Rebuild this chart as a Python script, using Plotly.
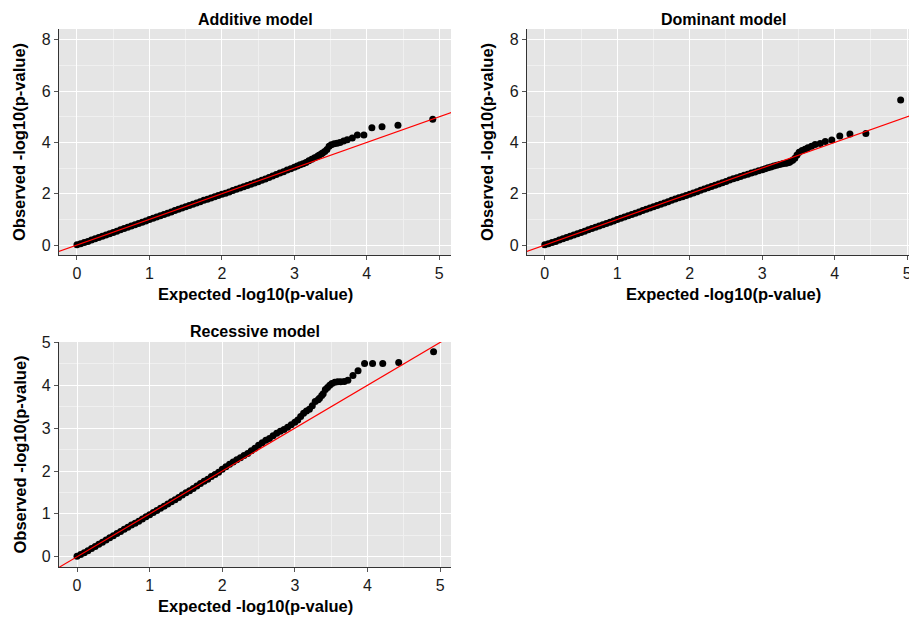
import plotly.graph_objects as go

# Expected -log10(p) (shared quantile positions)
expected = [4.91, 4.43, 4.21, 4.07, 3.96, 3.87, 3.80, 3.73, 3.68, 3.63,
            3.59, 3.55, 3.51, 3.48, 3.45, 3.42, 3.39, 3.37, 3.34, 3.32,
            3.28, 3.24, 3.20, 3.16, 3.12, 3.08, 3.04, 3.00,
            2.95, 2.90, 2.85, 2.80, 2.75, 2.70, 2.65, 2.60, 2.55, 2.50,
            2.45, 2.40, 2.35, 2.30, 2.25, 2.20, 2.15, 2.10, 2.05, 2.00,
            1.95, 1.90, 1.85, 1.80, 1.75, 1.70, 1.65, 1.60, 1.55, 1.50,
            1.45, 1.40, 1.35, 1.30, 1.25, 1.20, 1.15, 1.10, 1.05, 1.00,
            0.95, 0.90, 0.85, 0.80, 0.75, 0.70, 0.65, 0.60, 0.55, 0.50,
            0.45, 0.40, 0.35, 0.30, 0.25, 0.20, 0.15, 0.10, 0.05, 0.00]

additive_obs = [4.90, 4.67, 4.61, 4.57, 4.29, 4.29, 4.17, 4.10, 4.05, 4.00,
                3.97, 3.95, 3.91, 3.85, 3.72, 3.64, 3.59, 3.55, 3.50, 3.46,
                3.40, 3.34, 3.28, 3.22, 3.17, 3.13, 3.08, 3.03,
                2.97, 2.92, 2.86, 2.81, 2.75, 2.69, 2.63, 2.57, 2.52, 2.47,
                2.42, 2.37, 2.32, 2.27, 2.22, 2.17, 2.12, 2.07, 2.02, 1.98,
                1.93, 1.88, 1.83, 1.78, 1.74, 1.69, 1.64, 1.59, 1.54, 1.49,
                1.44, 1.39, 1.34, 1.29, 1.24, 1.19, 1.14, 1.09, 1.04, 0.99,
                0.94, 0.89, 0.84, 0.79, 0.74, 0.69, 0.64, 0.59, 0.54, 0.49,
                0.44, 0.39, 0.34, 0.29, 0.24, 0.19, 0.14, 0.10, 0.05, 0.01]

dominant_obs = [5.65, 4.35, 4.33, 4.25, 4.09, 4.03, 3.96, 3.92, 3.85, 3.79,
                3.73, 3.68, 3.62, 3.51, 3.38, 3.30, 3.25, 3.22, 3.20, 3.19,
                3.17, 3.14, 3.11, 3.08, 3.04, 3.01, 2.97, 2.93,
                2.89, 2.85, 2.81, 2.76, 2.72, 2.67, 2.62, 2.58, 2.53, 2.48,
                2.43, 2.38, 2.33, 2.28, 2.23, 2.18, 2.13, 2.08, 2.03, 1.98,
                1.93, 1.88, 1.84, 1.79, 1.74, 1.69, 1.64, 1.59, 1.54, 1.49,
                1.44, 1.39, 1.34, 1.29, 1.24, 1.19, 1.14, 1.09, 1.04, 0.99,
                0.94, 0.89, 0.84, 0.79, 0.74, 0.69, 0.64, 0.59, 0.54, 0.49,
                0.44, 0.39, 0.34, 0.29, 0.24, 0.19, 0.14, 0.10, 0.05, 0.01]

recessive_obs = [4.78, 4.53, 4.51, 4.51, 4.51, 4.34, 4.23, 4.12, 4.09, 4.08,
                 4.08, 4.07, 4.04, 4.00, 3.95, 3.90, 3.80, 3.76, 3.70, 3.66,
                 3.62, 3.52, 3.44, 3.40, 3.35, 3.27, 3.19, 3.14,
                 3.08, 3.02, 2.97, 2.93, 2.88, 2.82, 2.76, 2.72, 2.66, 2.60,
                 2.53, 2.47, 2.41, 2.36, 2.31, 2.26, 2.21, 2.16, 2.10, 2.04,
                 1.97, 1.92, 1.87, 1.81, 1.76, 1.71, 1.65, 1.59, 1.54, 1.49,
                 1.44, 1.38, 1.33, 1.28, 1.23, 1.18, 1.13, 1.08, 1.03, 0.98,
                 0.93, 0.88, 0.83, 0.78, 0.74, 0.69, 0.64, 0.59, 0.54, 0.49,
                 0.44, 0.39, 0.34, 0.29, 0.24, 0.19, 0.14, 0.09, 0.05, 0.01]

titles = ["Additive model", "Dominant model", "Recessive model"]
x_title = "Expected -log10(p-value)"
y_title = "Observed -log10(p-value)"
diag = [-1, 10]  # y = x reference line

W, H = 909, 618
FONT = "Liberation Sans, Arial, sans-serif"

# panel pixel boxes: (left, right, top, bottom)
panels = [
    dict(box=(59, 451, 29, 255), xr=[-0.248, 5.162], yr=[-0.39, 8.42], ydt=2, ymin=1, obs=additive_obs),
    dict(box=(527, 909, 29, 255), xr=[-0.245, 5.025], yr=[-0.39, 8.42], ydt=2, ymin=1, obs=dominant_obs),
    dict(box=(59, 451, 342, 567), xr=[-0.248, 5.15], yr=[-0.24, 5.01], ydt=1, ymin=0.5, obs=recessive_obs),
]

fig = go.Figure()
annotations = []
for i, p in enumerate(panels):
    n = "" if i == 0 else str(i + 1)
    xa, ya = "x" + n, "y" + n
    l, r, t, b = p["box"]
    fig.add_trace(go.Scatter(x=expected, y=p["obs"], mode="markers", xaxis=xa, yaxis=ya,
                             marker=dict(color="black", size=7, line=dict(width=0)),
                             showlegend=False, hoverinfo="skip"))
    fig.add_trace(go.Scatter(x=diag, y=diag, mode="lines", xaxis=xa, yaxis=ya,
                             line=dict(color="#FF0000", width=1.2),
                             showlegend=False, hoverinfo="skip"))
    common = dict(showline=True, linecolor="#333333", linewidth=1.3, mirror=False,
                  ticks="outside", ticklen=4, tickwidth=1, tickcolor="#555555",
                  showgrid=True, gridcolor="white", gridwidth=1.3, zeroline=False,
                  tickfont=dict(family=FONT, size=16, color="#1A1A1A"),
                  ticklabeloverflow="allow", automargin=False)
    fig.layout["xaxis" + n] = dict(common, domain=[l / W, r / W], range=p["xr"],
                                   anchor=ya, dtick=1, tick0=0,
                                   minor=dict(dtick=0.5, tick0=0, showgrid=True,
                                              gridcolor="#F0F0F0", gridwidth=0.7, ticks=""))
    fig.layout["yaxis" + n] = dict(common, domain=[1 - b / H, 1 - t / H], range=p["yr"],
                                   anchor=xa, dtick=p["ydt"], tick0=0,
                                   minor=dict(dtick=p["ymin"], tick0=0, showgrid=True,
                                              gridcolor="#F0F0F0", gridwidth=0.7, ticks=""))
    cx = (l + (r if i != 1 else 919)) / 2
    annotations.append(dict(text="<b>%s</b>" % titles[i], x=cx / W, y=1 - (t - 10) / H,
                            xref="paper", yref="paper", showarrow=False,
                            xanchor="center", yanchor="middle",
                            font=dict(family=FONT, size=16, color="black")))
    annotations.append(dict(text="<b>%s</b>" % x_title, x=cx / W, y=1 - (b + 39) / H,
                            xref="paper", yref="paper", showarrow=False,
                            xanchor="center", yanchor="middle",
                            font=dict(family=FONT, size=16.5, color="black")))
    annotations.append(dict(text="<b>%s</b>" % y_title, x=(l - 40) / W, y=1 - ((t + b) / 2) / H,
                            xref="paper", yref="paper", showarrow=False, textangle=-90,
                            xanchor="center", yanchor="middle",
                            font=dict(family=FONT, size=16.5, color="black")))

fig.update_layout(width=W, height=H, margin=dict(l=0, r=0, t=0, b=0, autoexpand=False),
                  plot_bgcolor="#E5E5E5", paper_bgcolor="white", template="none",
                  annotations=annotations, showlegend=False)

fig.write_html("out.html", config={"displayModeBar": False},
               post_script="document.body.style.margin='0';")
